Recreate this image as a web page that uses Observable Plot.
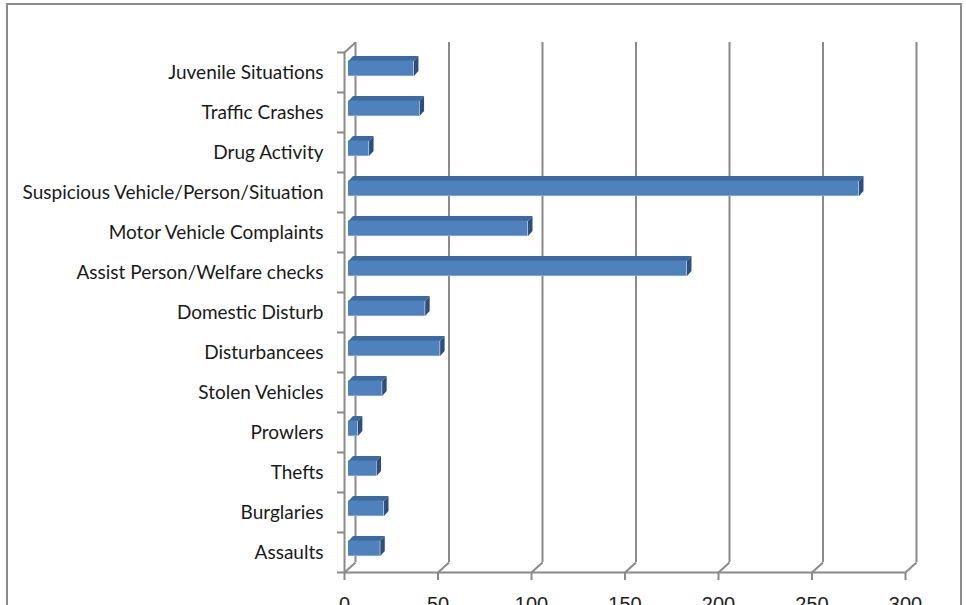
<!DOCTYPE html>
<html>
<head>
<meta charset="utf-8">
<script src="https://cdn.jsdelivr.net/npm/d3@7"></script>
<script src="https://cdn.jsdelivr.net/npm/@observablehq/plot@0.6"></script>
<style>
  html, body { margin: 0; padding: 0; overflow: hidden; background: #fff; }
  #wrap { position: relative; width: 966px; height: 605px; overflow: hidden; }
  #frame { position: absolute; left: 6px; top: 3px; width: 956px; height: 700px; border: 2px solid #8c8c8c; box-sizing: border-box; }
  #chart { position: absolute; left: 0; top: 0; }
</style>
</head>
<body>
<div id="wrap"><div id="frame"></div><div id="chart"></div></div>
<script>
const categories = [
  "Juvenile Situations",
  "Traffic Crashes",
  "Drug Activity",
  "Suspicious Vehicle/Person/Situation",
  "Motor Vehicle Complaints",
  "Assist Person/Welfare checks",
  "Domestic Disturb",
  "Disturbancees",
  "Stolen Vehicles",
  "Prowlers",
  "Thefts",
  "Burglaries",
  "Assaults"
];
const counts = [35, 38, 11, 273, 96, 181, 41, 49, 18, 5, 15, 19, 17];
const xTicks = [0, 50, 100, 150, 200, 250, 300];

const W = 966, H = 625, mL = 344, mR = 61, mT = 52, mB = 53;
const n = categories.length;
const xMax = 300;
const pxX = (W - mL - mR) / xMax;
const pxY = (H - mT - mB) / n;

// 3-D depth of the walls (px) converted to data units
const gDX = 11 / pxX, gDY = 10 / pxY;
// bar thickness and depth
const half = 7.5 / pxY;
const bDX = 4.5 / pxX, bDY = 5 / pxY;

const bars = categories.map((c, j) => ({ c, v: counts[j], y: n - j - 0.5 }));

const tops = bars.flatMap(b => [
  [0, b.y + half], [b.v, b.y + half], [b.v + bDX, b.y + half + bDY], [bDX, b.y + half + bDY]
].map(([x, y]) => ({ c: b.c, x, y })));
const sides = bars.flatMap(b => [
  [b.v, b.y - half], [b.v, b.y + half], [b.v + bDX, b.y + half + bDY], [b.v + bDX, b.y - half + bDY]
].map(([x, y]) => ({ c: b.c, x, y })));

const gridLinks = xTicks.map(t => ({ x1: t, y1: 0, x2: t + gDX, y2: gDY }));
const topLink = [{ x1: 0, y1: n, x2: gDX, y2: n + gDY }];

const gray = "#8a8a8a";

const chart = Plot.plot({
  width: W,
  height: H,
  marginLeft: mL,
  marginRight: mR,
  marginTop: mT,
  marginBottom: mB,
  style: { background: "transparent", overflow: "visible" },
  x: { domain: [0, xMax] },
  y: { domain: [0, n] },
  marks: [
    // back wall gridlines
    Plot.ruleX(xTicks, { x: d => d + gDX, y1: gDY, y2: n + gDY, stroke: gray, strokeWidth: 2 }),
    // floor diagonals
    Plot.link(gridLinks, { x1: "x1", y1: "y1", x2: "x2", y2: "y2", stroke: gray, strokeWidth: 2 }),
    Plot.link(topLink, { x1: "x1", y1: "y1", x2: "x2", y2: "y2", stroke: gray, strokeWidth: 2 }),
    // front axes
    Plot.ruleY([0], { x1: 0, x2: xMax, stroke: gray, strokeWidth: 2 }),
    Plot.ruleX([0], { y1: 0, y2: n, stroke: gray, strokeWidth: 2 }),
    Plot.axisY(d3.range(n + 1), { tickSize: 7, tickFormat: () => "", stroke: gray, strokeWidth: 2 }),
    Plot.axisX(xTicks, {
      tickSize: 8, tickPadding: 16, stroke: gray, strokeWidth: 2,
      fontSize: 20, fontFamily: "Liberation Sans, Arial, sans-serif", fill: "#222", label: null
    }),
    // bars
    Plot.line(tops, { x: "x", y: "y", z: "c", fill: "#3d69a0", stroke: "none", curve: "linear-closed", dx: 4, dy: -4 }),
    Plot.line(sides, { x: "x", y: "y", z: "c", fill: "#2d4f7c", stroke: "none", curve: "linear-closed", dx: 4, dy: -4 }),
    Plot.rect(bars, { x1: 0, x2: "v", y1: d => d.y - half, y2: d => d.y + half, fill: "#4f81bd", dx: 4, dy: -4 }),
    Plot.ruleY(bars, { x1: 0, x2: "v", y: d => d.y - half, stroke: "#7fa3d3", strokeWidth: 1, dx: 4, dy: -4.5 }),
    // category labels
    Plot.text(bars, {
      x: 0, y: "y", text: "c", textAnchor: "end", dx: -21,
      fontSize: 19, fontFamily: "Lato, Liberation Sans, sans-serif", fill: "#1a1a1a"
    })
  ]
});
document.getElementById("chart").appendChild(chart);
</script>
</body>
</html>
